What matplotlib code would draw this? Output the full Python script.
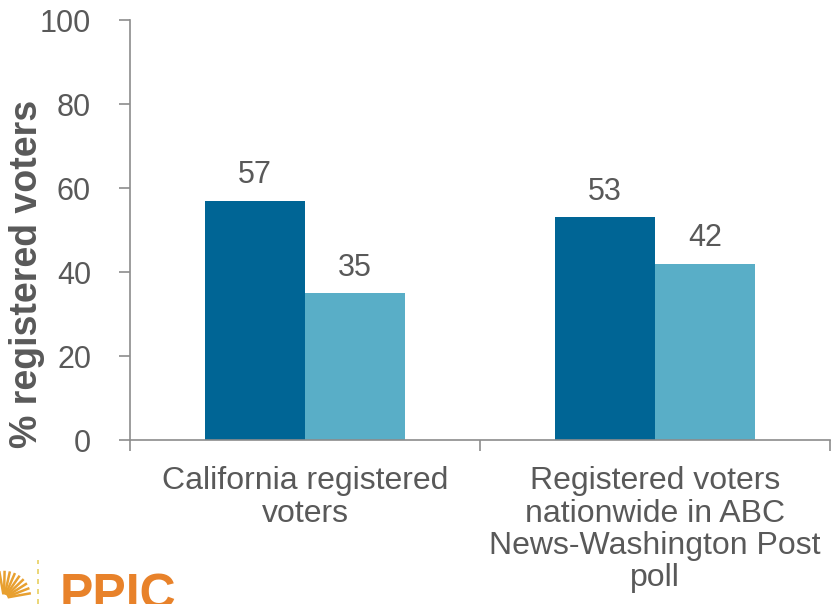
import numpy as np
import matplotlib.pyplot as plt
from matplotlib.lines import Line2D

plt.rcParams['font.family'] = ['Liberation Sans', 'DejaVu Sans']

categories = ['California registered\nvoters',
              'Registered voters\nnationwide in ABC\nNews-Washington Post\npoll']
series_a = [57, 53]
series_b = [35, 42]
yticks = [0, 20, 40, 60, 80, 100]

dark = '#006595'
light = '#59aec7'
grey_txt = '#595959'
grey_ax = '#8c8c8c'

fig = plt.figure(figsize=(8.32, 6.04), dpi=100)
ax = fig.add_axes([130/832, (604-440)/604, 700/832, 420/604])

x = np.arange(len(categories)) + 0.5
w = 100/350
ax.bar(x - w/2, series_a, w, color=dark)
ax.bar(x + w/2, series_b, w, color=light)
for xi, v in zip(x - w/2, series_a):
    ax.text(xi, v + 2.5, str(v), ha='center', va='bottom', fontsize=22, color=grey_txt)
for xi, v in zip(x + w/2, series_b):
    ax.text(xi, v + 2.5, str(v), ha='center', va='bottom', fontsize=22, color=grey_txt)

ax.set_xlim(0, len(categories))
ax.set_ylim(0, 100)
ax.set_yticks(yticks)
ax.set_xticks(x)
ax.set_xticklabels(categories, linespacing=1.1)
ax.set_xticks(np.arange(len(categories) + 1), minor=True)
ax.tick_params(axis='x', which='major', length=0, pad=19, labelsize=23, labelcolor=grey_txt)
ax.tick_params(axis='x', which='minor', length=8, color=grey_ax, width=1.2)
ax.tick_params(axis='y', length=8, color=grey_ax, width=1.2, labelsize=22, labelcolor=grey_txt, pad=20)

# y label sits lower than the axis centre in the original
fig.text(27/832, (604-274)/604, '% registered voters', fontsize=27, fontweight='bold',
         color=grey_txt, rotation=90, ha='center', va='center')

for s in ['top', 'right']:
    ax.spines[s].set_visible(False)
for s in ['left', 'bottom']:
    ax.spines[s].set_color(grey_ax)
    ax.spines[s].set_linewidth(1.2)

# logo at bottom left
cx, cy = 4/832, 6/604
for ang in np.linspace(10, 100, 9):
    r0, r1 = 5, 26
    a = np.deg2rad(ang)
    fig.add_artist(Line2D([cx + r0*np.cos(a)/832, cx + r1*np.cos(a)/832],
                          [cy + r0*np.sin(a)/604, cy + r1*np.sin(a)/604],
                          color='#e8a030', lw=1.8, transform=fig.transFigure))
fig.add_artist(Line2D([38/832, 38/832], [0, 44/604], color='#e8cf60', lw=1.2,
                      ls=(0, (3, 3)), transform=fig.transFigure))
fig.text(60/832, (604-573)/604, 'PPIC', fontsize=36, fontweight='bold',
         color='#e8822a', ha='left', va='top')

fig.savefig('out.png', dpi=100)
